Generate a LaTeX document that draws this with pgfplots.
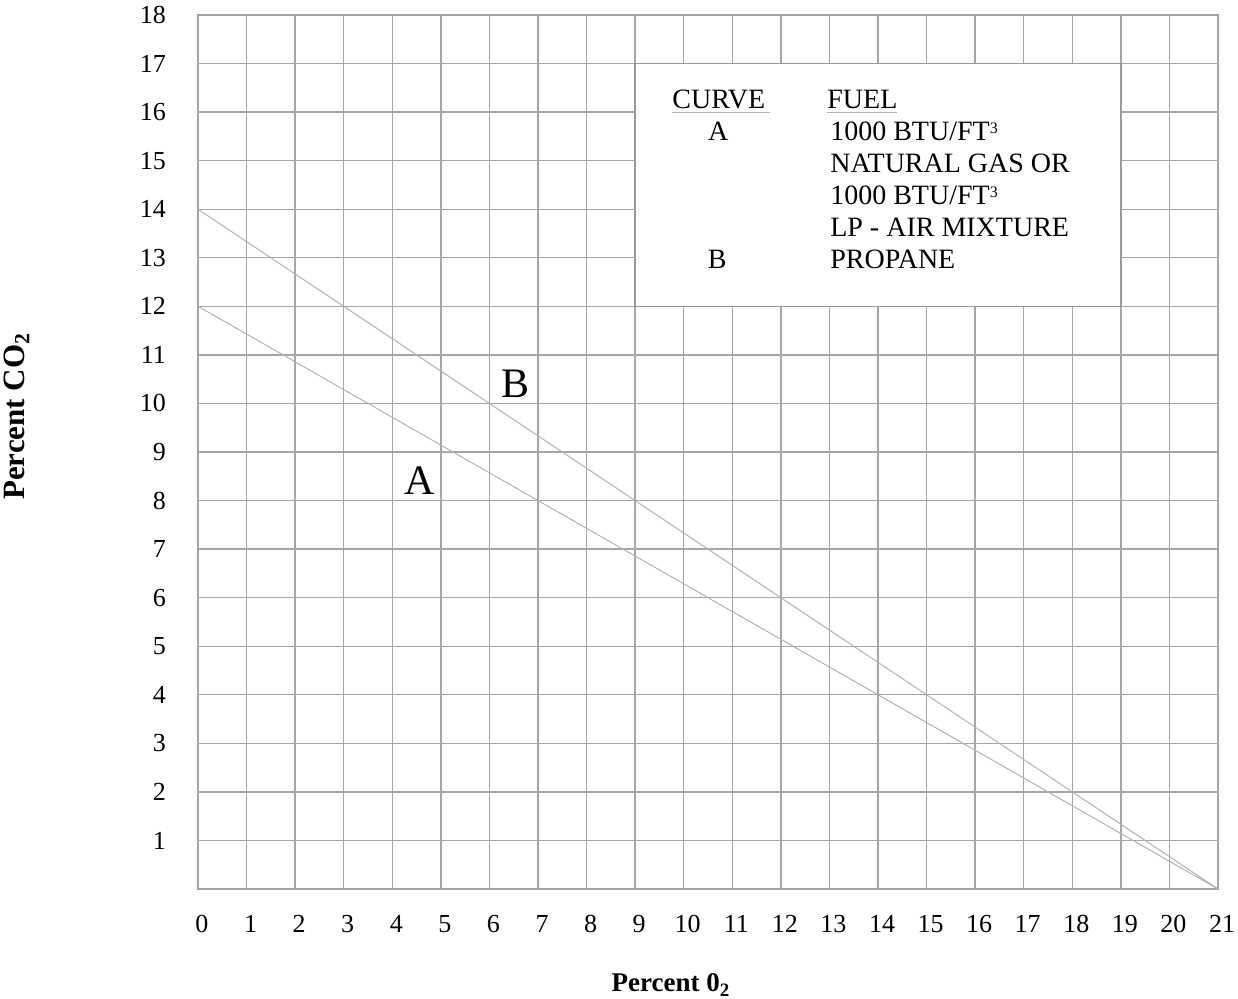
\documentclass[border=0pt]{standalone}
\usepackage{fontspec}
\setmainfont{Liberation Serif}
\usepackage{pgfplots}
\pgfplotsset{compat=1.18}
\newcommand{\cube}{\raisebox{0.55ex}{\fontsize{8}{8}\selectfont 3}}
\begin{document}
\begin{tikzpicture}
\begin{axis}[
  scale only axis,
  width=510pt, height=437pt,
  xmin=0, xmax=21, ymin=0, ymax=18,
  xtick={0,...,21}, ytick={1,...,18},
  major tick length=0pt,
  grid=major,
  grid style={black!35, line width=0.65pt},
  axis line style={black!35, line width=0.65pt},
  /pgf/number format/assume math mode=true,
  tick label style={font=\fontsize{13}{15}\selectfont},
  y tick label style={anchor=east, xshift=-12.5pt},
  x tick label style={anchor=base, yshift=-22pt, xshift=2pt},
]
\addplot[black!30, line width=0.5pt] coordinates {(0,12) (21,0)};
\addplot[black!30, line width=0.5pt] coordinates {(0,14) (21,0)};
\node[anchor=base, font=\fontsize{21}{24}\selectfont] at (axis cs:4.57,8.13) {A};
\node[anchor=base, font=\fontsize{21}{24}\selectfont] at (axis cs:6.53,10.13) {B};
\draw[black!40, line width=0.7pt, fill=white] (axis cs:9,12) rectangle (axis cs:19,17);
\begin{scope}[every node/.style={font=\fontsize{14}{16}\selectfont, inner sep=0pt}]
\node[anchor=base west] at (axis cs:9.76,16.08) {CURVE};
\node[anchor=base west] at (axis cs:12.95,16.08) {FUEL};
\draw[black!30, line width=0.5pt] (axis cs:9.76,15.99) -- (axis cs:11.78,15.99);
\draw[black!30, line width=0.5pt] (axis cs:12.95,15.99) -- (axis cs:14.39,15.99);
\node[anchor=base] at (axis cs:10.71,15.41) {A};
\node[anchor=base] at (axis cs:10.69,12.77) {B};
\node[anchor=base west] at (axis cs:13.01,15.41) {1000 BTU/FT\cube};
\node[anchor=base west] at (axis cs:13.01,14.75) {NATURAL GAS OR};
\node[anchor=base west] at (axis cs:13.01,14.09) {1000 BTU/FT\cube};
\node[anchor=base west] at (axis cs:13.01,13.43) {LP - AIR MIXTURE};
\node[anchor=base west] at (axis cs:13.01,12.77) {PROPANE};
\end{scope}
\end{axis}
\node[anchor=base, font=\bfseries\fontsize{13.5}{15}\selectfont] at (236.5pt,-51.5pt) {Percent 0\textsubscript{2}};
\node[anchor=base, rotate=90, font=\bfseries\fontsize{15.5}{17}\selectfont] at (-86.5pt,236.4pt) {Percent CO\textsubscript{2}};
\pgfresetboundingbox
\path (-99pt,-55pt) rectangle (520pt,444.5pt);
\end{tikzpicture}
\end{document}
